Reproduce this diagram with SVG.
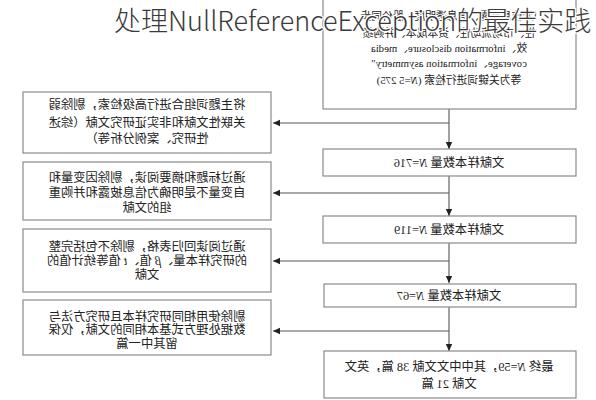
<svg xmlns="http://www.w3.org/2000/svg" width="596" height="400" viewBox="0 0 596 400">
<style>
.box{fill:#fff;stroke:#8a8a8a;stroke-width:1.2}
.t{font-family:"Liberation Serif","Noto Sans CJK SC",serif;fill:#222;text-anchor:middle}
.s{font-size:12.3px}
.m{font-size:10.8px}
.c{fill:none;stroke:#555;stroke-width:1.1}
.title{font-family:"Noto Sans CJK SC","Noto Sans",sans-serif;font-size:27px;fill:#3a3a3a;font-weight:300;stroke:#fff;stroke-width:2.5;paint-order:stroke}
</style>
<defs>
<marker id="ah" markerWidth="8" markerHeight="8" refX="7" refY="4" orient="auto" markerUnits="userSpaceOnUse">
<path d="M0,0.8 L7,4 L0,7.2 Z" fill="#222"/>
</marker>
</defs>
<rect width="596" height="400" fill="#fff"/>
<g id="connectors">
<line class="c" x1="449" y1="109" x2="449" y2="149" marker-end="url(#ah)"/>
<line class="c" x1="449" y1="123" x2="273" y2="123" marker-end="url(#ah)"/>
<line class="c" x1="449" y1="176" x2="449" y2="216" marker-end="url(#ah)"/>
<line class="c" x1="449" y1="193" x2="273" y2="193" marker-end="url(#ah)"/>
<line class="c" x1="449" y1="243" x2="449" y2="283" marker-end="url(#ah)"/>
<line class="c" x1="449" y1="261" x2="273" y2="261" marker-end="url(#ah)"/>
<line class="c" x1="449" y1="307" x2="449" y2="351" marker-end="url(#ah)"/>
<line class="c" x1="449" y1="331" x2="273" y2="331" marker-end="url(#ah)"/>
</g>
<g id="search">
<rect class="box" x="323" y="-2" width="253" height="111"/>
<g transform="matrix(-1 0 0 1 898 0)">
<text class="t m" x="449" y="20">以"信息披露、信息透明度、股价同步</text>
<text class="t m" x="449" y="37">性、市场流动性、资本成本、并购绩</text>
<text class="t m" x="449" y="52">效、information disclosure、media</text>
<text class="t m" x="449" y="67">coverage、information asymmetry"</text>
<text class="t m" x="449" y="84">等为关键词进行检索 (<tspan font-style="italic">N</tspan>=5 275)</text>
</g>
</g>
<g id="n716">
<rect class="box" x="323" y="149" width="253" height="27"/>
<g transform="matrix(-1 0 0 1 898 0)"><text class="t s" x="449" y="167">文献样本数量 <tspan font-style="italic">N</tspan>=716</text></g>
</g>
<g id="n119">
<rect class="box" x="323" y="216" width="253" height="27"/>
<g transform="matrix(-1 0 0 1 898 0)"><text class="t s" x="449" y="234">文献样本数量 <tspan font-style="italic">N</tspan>=119</text></g>
</g>
<g id="n67">
<rect class="box" x="324" y="284" width="252" height="23"/>
<g transform="matrix(-1 0 0 1 898 0)"><text class="t s" x="449" y="300">文献样本数量 <tspan font-style="italic">N</tspan>=67</text></g>
</g>
<g id="final">
<rect class="box" x="324" y="351" width="252" height="47"/>
<g transform="matrix(-1 0 0 1 898 0)">
<text class="t s" x="449" y="371">最终 <tspan font-style="italic">N</tspan>=59，其中中文文献 38 篇，英文</text>
<text class="t s" x="449" y="388">文献 21 篇</text>
</g>
</g>
<g id="ex1">
<rect class="box" x="23" y="92" width="248" height="61"/>
<g transform="matrix(-1 0 0 1 294 0)">
<text class="t s" x="147" y="109">将主题词组合进行高级检索，剔除弱</text>
<text class="t s" x="147" y="127">关联性文献和非实证研究文献（综述</text>
<text class="t s" x="147" y="143">性研究、案例分析等）</text>
</g>
</g>
<g id="ex2">
<rect class="box" x="23" y="162" width="248" height="58"/>
<g transform="matrix(-1 0 0 1 294 0)">
<text class="t s" x="147" y="182">通过标题和摘要阅读，剔除因变量和</text>
<text class="t s" x="147" y="197">自变量不是明确为信息披露和并购重</text>
<text class="t s" x="147" y="212">组的文献</text>
</g>
</g>
<g id="ex3">
<rect class="box" x="23" y="229" width="248" height="63"/>
<g transform="matrix(-1 0 0 1 294 0)">
<text class="t s" x="147" y="251">通过阅读回归表格，剔除不包括完整</text>
<text class="t s" x="147" y="265">的研究样本量、<tspan font-style="italic">β</tspan> 值、<tspan font-style="italic">t</tspan> 值等统计值的</text>
<text class="t s" x="147" y="279">文献</text>
</g>
</g>
<g id="ex4">
<rect class="box" x="23" y="300" width="248" height="55"/>
<g transform="matrix(-1 0 0 1 294 0)">
<text class="t s" x="147" y="321">剔除使用相同研究样本且研究方法与</text>
<text class="t s" x="147" y="334">数据处理方式基本相同的文献，仅保</text>
<text class="t s" x="147" y="348">留其中一篇</text>
</g>
</g>
<g id="title">
<text class="title" x="114" y="31">处理NullReferenceException的最佳实践</text>
</g>
</svg>
